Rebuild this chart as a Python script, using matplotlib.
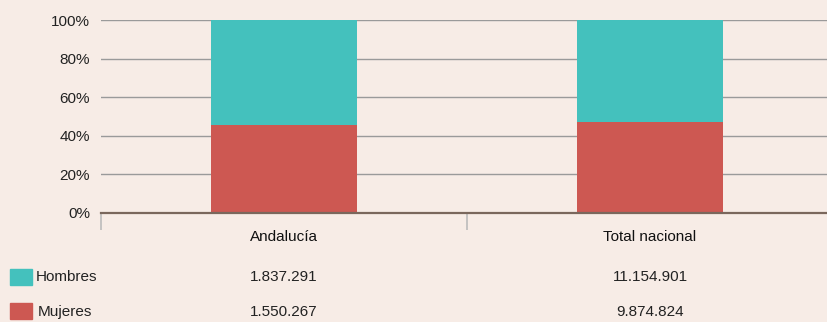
import matplotlib
matplotlib.use("Agg")
from matplotlib import pyplot as plt
from matplotlib.patches import Rectangle
import numpy as np

plt.rcParams['font.family'] = ['Liberation Sans Narrow', 'Liberation Sans', 'DejaVu Sans']

# data
categories = ['Andalucía', 'Total nacional']
hombres = [1837291, 11154901]
mujeres = [1550267, 9874824]
hombres_lbl = ['1.837.291', '11.154.901']
mujeres_lbl = ['1.550.267', '9.874.824']
yticks = [0, 20, 40, 60, 80, 100]

bg = '#f7ece6'
c_h = '#44c1bd'
c_m = '#cd5852'

hombres = np.array(hombres, dtype=float)
mujeres = np.array(mujeres, dtype=float)
total = hombres + mujeres
pct_m = mujeres / total * 100
pct_h = hombres / total * 100

W, H = 828, 322
fig = plt.figure(figsize=(W / 100, H / 100), dpi=100)
fig.patch.set_facecolor(bg)

# axes runs a bit past the right edge, like the original
ax = fig.add_axes([101 / W, 1 - 213 / H, 732 / W, 193 / H])
ax.set_facecolor(bg)

x = np.arange(len(categories))
ax.bar(x, pct_m, width=0.40, color=c_m, zorder=3)
ax.bar(x, pct_h, width=0.40, bottom=pct_m, color=c_h, zorder=3)

ax.set_xlim(-0.5, len(categories) - 0.5)
ax.set_ylim(0, 100)
ax.set_yticks(yticks)
ax.set_yticklabels([f'{v}%' for v in yticks], fontsize=11, color='#222222')
ax.tick_params(axis='y', length=0, pad=8)
for v in yticks[1:]:
    ax.axhline(v, color='#9a9a9a', lw=1, zorder=1)

for s in ['top', 'right', 'left']:
    ax.spines[s].set_visible(False)
ax.spines['bottom'].set_color('#7a675c')
ax.spines['bottom'].set_linewidth(1.6)
ax.spines['bottom'].set_zorder(4)

# category separators below the axis
ax.set_xticks(np.arange(len(categories) + 1) - 0.5)
ax.set_xticklabels([])
ax.tick_params(axis='x', length=12, color='#bbbbbb', width=1.2)

# category labels and table rows
for i, cat in enumerate(categories):
    xf = ax.transData.transform((x[i], 0))[0] / W
    fig.text(xf, 1 - 237 / H, cat, ha='center', va='center', fontsize=11, color='#111111')
    fig.text(xf, 1 - 277 / H, hombres_lbl[i], ha='center', va='center', fontsize=11, color='#222222')
    fig.text(xf, 1 - 312 / H, mujeres_lbl[i], ha='center', va='center', fontsize=11, color='#222222')

# legend swatches
fig.patches.append(Rectangle((10 / W, 1 - 285 / H), 22 / W, 16 / H, color=c_h, transform=fig.transFigure))
fig.patches.append(Rectangle((10 / W, 1 - 319 / H), 22 / W, 16 / H, color=c_m, transform=fig.transFigure))
fig.text(36 / W, 1 - 277 / H, 'Hombres', ha='left', va='center', fontsize=11, color='#222222')
fig.text(38 / W, 1 - 312 / H, 'Mujeres', ha='left', va='center', fontsize=11, color='#222222')

plt.savefig('out.png', dpi=100, facecolor=bg)
